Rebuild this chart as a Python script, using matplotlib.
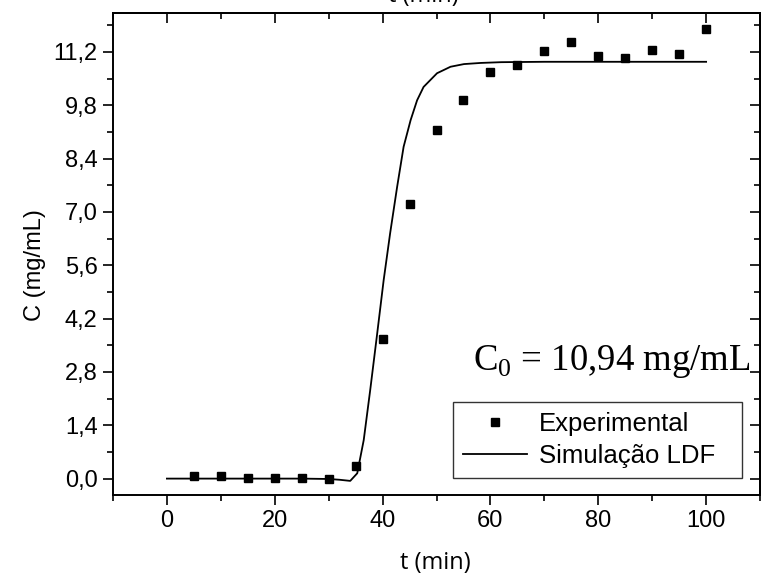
import matplotlib
matplotlib.use("Agg")
import matplotlib.pyplot as plt
from matplotlib.ticker import MultipleLocator, FuncFormatter

# Experimental data
t_exp = [5, 10, 15, 20, 25, 30, 35, 40, 45, 50, 55, 60, 65, 70, 75, 80, 85, 90, 95, 100]
c_exp = [0.08, 0.06, 0.02, 0.01, 0.02, 0.0, 0.33, 3.66, 7.2, 9.15, 9.95, 10.66, 10.85,
         11.22, 11.45, 11.09, 11.05, 11.24, 11.15, 11.79]

# LDF simulation curve
t_sim = [0, 5, 10, 15, 20, 25, 30, 32, 34, 35.3, 36.5, 37.7, 39.0, 40.2, 41.4, 42.7,
         43.9, 45.2, 46.4, 47.6, 50.1, 52.6, 55.1, 58.2, 62, 70, 80, 90, 100]
c_sim = [0, 0, 0, 0, 0, 0, -0.01, -0.03, -0.06, 0.14, 1.01, 2.32, 3.81, 5.21, 6.44, 7.66,
         8.71, 9.41, 9.93, 10.28, 10.64, 10.81, 10.88, 10.91, 10.93, 10.94, 10.94, 10.94, 10.94]

plt.rcParams['font.family'] = ['Liberation Sans', 'DejaVu Sans']
plt.rcParams['mathtext.fontset'] = 'custom'
plt.rcParams['mathtext.rm'] = 'Liberation Serif'

fig = plt.figure(figsize=(7.65, 5.79), dpi=100)
ax = fig.add_axes([0.1477, 0.1451, 0.8458, 0.8324])

ax.plot(t_exp, c_exp, 's', color='black', markersize=6.2, label='Experimental', zorder=3)
ax.plot(t_sim, c_sim, '-', color='black', linewidth=1.3, label='Simulação LDF')

ax.set_xlim(-10, 110)
ax.set_ylim(-0.43, 12.22)

ax.xaxis.set_major_locator(MultipleLocator(20))
ax.xaxis.set_minor_locator(MultipleLocator(10))
ax.yaxis.set_major_locator(MultipleLocator(1.4))
ax.yaxis.set_minor_locator(MultipleLocator(0.7))
ax.yaxis.set_major_formatter(FuncFormatter(lambda v, p: f"{v:.1f}".replace('.', ',').replace('-0,0', '0,0')))

for s in ax.spines.values():
    s.set_linewidth(1.4)

ax.tick_params(which='major', direction='out', length=7.5, width=1.2, labelsize=17, pad=3.5)
ax.tick_params(which='minor', direction='out', length=4, width=1.2)

# mirrored inward ticks on top and right
sx = ax.secondary_xaxis('top')
sx.xaxis.set_major_locator(MultipleLocator(20))
sx.xaxis.set_minor_locator(MultipleLocator(10))
sx.tick_params(which='major', direction='in', length=7.5, width=1.2, labeltop=False)
sx.tick_params(which='minor', direction='in', length=4, width=1.2)
sx.spines['top'].set_linewidth(1.4)
sy = ax.secondary_yaxis('right')
sy.yaxis.set_major_locator(MultipleLocator(1.4))
sy.yaxis.set_minor_locator(MultipleLocator(0.7))
sy.tick_params(which='major', direction='in', length=7.5, width=1.2, labelright=False)
sy.tick_params(which='minor', direction='in', length=4, width=1.2)
sy.spines['right'].set_linewidth(1.4)

ax.set_xlabel('t (min)', family=['Open Sans', 'DejaVu Sans'], fontsize=17)
ax.xaxis.set_label_coords(0.498, -0.141)
ax.xaxis.label.set_va('center')
ax.set_ylabel('C (mg/mL)', fontsize=17)
ax.yaxis.set_label_coords(-0.1206, 0.477)
ax.yaxis.label.set_va('center')

# clipped label at the very top of the figure
fig.text(423 / 765, 1 - 2 / 579, 't (min)', family=['Open Sans', 'DejaVu Sans'],
         fontsize=17, ha='center', va='baseline')

ax.text(0.556, 0.26, r'C$_0$ = 10,94 mg/mL', transform=ax.transAxes,
        fontsize=26.5, family='Liberation Serif', ha='left', va='baseline')

leg = ax.legend(loc='lower left', bbox_to_anchor=(0.525, 0.035, 0.447, 0.167), mode='expand',
                borderaxespad=0, fontsize=18.5, frameon=True, fancybox=False,
                edgecolor='black', handlelength=2.5, handletextpad=0.45,
                borderpad=0.4, labelspacing=0.3)
leg.get_frame().set_linewidth(1.0)

fig.savefig('out.png', dpi=100)
